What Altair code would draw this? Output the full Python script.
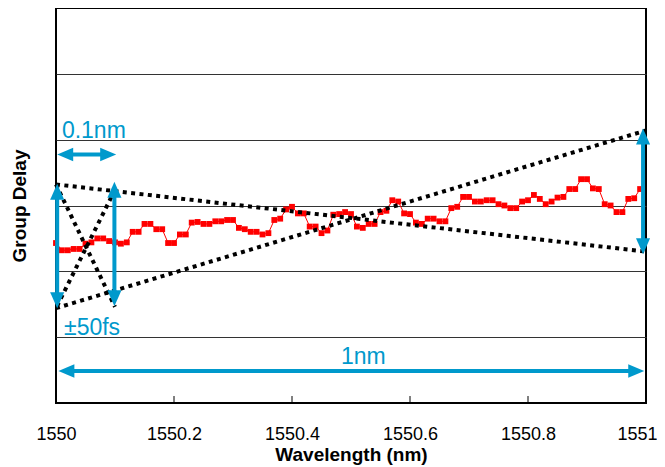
import altair as alt
import pandas as pd

FONT = "Liberation Sans"
BLUE = "#0099cc"

# ---- measured group delay (fs, arbitrary offset) sampled every 0.01 nm from 1550 nm
gd_values = [121.5, 116, 116, 117, 117, 121, 122, 125, 125, 123,
             122, 121, 122, 130, 130, 136, 136, 132, 132, 121.5,
             121.5, 128, 128, 137, 137.5, 136, 136, 138, 138, 139,
             139, 133, 132, 130, 130, 128, 129, 139, 140, 147,
             149, 144, 144, 134, 134, 129, 131, 143, 143.5, 145,
             143.5, 134, 133, 136, 136, 145, 146, 154, 153, 144,
             143.5, 137, 136, 140, 140, 138, 138, 148, 149, 156.5,
             156.5, 153, 153, 154, 154, 151, 150, 148, 148, 153,
             154, 158, 155, 151, 153, 156, 156.5, 162.5, 162.5, 170,
             170, 163, 162.5, 151, 150, 145, 145, 155, 155.5, 162.5]
wl_start = 1550.0
wl_step = 0.01

# ---- dotted guide lines (segment id, wavelength, delay)
dot_seg = ["a", "a", "b", "b", "c", "c", "d", "d"]
dot_x = [1550.0, 1551.0, 1550.0, 1551.0, 1550.0, 1550.1, 1550.1, 1550.0]
dot_y = [166, 115, 72, 207, 166, 73, 162, 72]

# ---- blue arrows
v_arrow_x = [1550.002, 1550.099, 1550.995]
v_arrow_top = [166.5, 168, 208.5]
v_arrow_bot = [72, 73.5, 113]
h_arrow_y = [188.8, 24.3]
h_arrow_left = [1550.002, 1550.004]
h_arrow_right = [1550.102, 1550.997]

# ---- annotation texts
note_text = ["0.1nm", "\u00b150fs", "1nm"]
note_x = [1550.010, 1550.0136, 1550.483]
note_y = [201.3, 51.6, 29.6]

# ---- axis
x_tick_values = [1550, 1550.2, 1550.4, 1550.6, 1550.8, 1551]
inner_ticks = [1550.2, 1550.4, 1550.6, 1550.8]
y_grid_values = [50, 100, 150, 200, 250]

# ---------------------------------------------------------------
xscale = alt.Scale(domain=[1550, 1551], nice=False, zero=False)
yscale = alt.Scale(domain=[0, 300], nice=False, zero=False)

xaxis = alt.Axis(values=x_tick_values, format=".5~g", grid=False, domain=False,
                 ticks=False, tickSize=0, labelFont=FONT, labelFontSize=18,
                 labelColor="black", labelBaseline="alphabetic", labelPadding=36,
                 labelFlush=False, labelOverlap=False,
                 labelOffset=alt.condition("datum.value >= 1551", alt.value(-9), alt.value(0)),
                 title="Wavelength (nm)", titleFont=FONT, titleFontSize=19,
                 titleFontWeight="bold", titleColor="black",
                 titleBaseline="alphabetic", titleX=295, titleY=57)
yaxis = alt.Axis(values=y_grid_values, grid=True, gridColor="#333333", gridWidth=1,
                 labels=False, ticks=False, tickSize=0, domain=False,
                 title="Group Delay", titleFont=FONT, titleFontSize=19,
                 titleFontWeight="bold", titleColor="black", titleAngle=-90,
                 titleBaseline="alphabetic", titleAlign="center",
                 titleX=-31, titleY=197.5)


def X(field="x"):
    return alt.X(f"{field}:Q", scale=xscale, axis=xaxis)


def Y(field="y"):
    return alt.Y(f"{field}:Q", scale=yscale, axis=yaxis)


red_df = pd.DataFrame({
    "x": [round(wl_start + i * wl_step, 3) for i in range(len(gd_values))],
    "y": gd_values,
})
red = alt.Chart(red_df).mark_line(
    color="#ff0000", strokeWidth=1, clip=False,
    point=alt.OverlayMarkDef(shape="square", size=34, filled=True,
                             color="#ff0000", opacity=1),
).encode(x=X(), y=Y())

dot_df = pd.DataFrame({"seg": dot_seg, "x": dot_x, "y": dot_y,
                       "o": list(range(len(dot_x)))})
dots = alt.Chart(dot_df).mark_line(
    color="black", strokeWidth=4, strokeDash=[4, 4.4], strokeCap="butt"
).encode(x=X(), y=Y(), detail="seg:N", order="o:Q")

ticks_df = pd.DataFrame({"x": inner_ticks, "y": [0] * len(inner_ticks),
                         "y2": [5.3] * len(inner_ticks)})
ticks = alt.Chart(ticks_df).mark_rule(color="black", strokeWidth=1).encode(
    x=X(), y=Y(), y2="y2:Q")

# arrow shafts (inset from the tips so the heads cover their ends)
inset_y = 7.0
inset_x = 0.014
vs_df = pd.DataFrame({"x": v_arrow_x,
                      "y": [t - inset_y for t in v_arrow_top],
                      "y2": [b + inset_y for b in v_arrow_bot]})
v_shafts = alt.Chart(vs_df).mark_rule(color=BLUE, strokeWidth=4).encode(
    x=X(), y=Y(), y2="y2:Q")
hs_df = pd.DataFrame({"y": h_arrow_y,
                      "x": [l + inset_x for l in h_arrow_left],
                      "x2": [r - inset_x for r in h_arrow_right]})
h_shafts = alt.Chart(hs_df).mark_rule(color=BLUE, strokeWidth=4).encode(
    x=X(), x2="x2:Q", y=Y())

head_x, head_y, head_dir = [], [], []
for xv, t, b in zip(v_arrow_x, v_arrow_top, v_arrow_bot):
    head_x += [xv, xv]
    head_y += [t, b]
    head_dir += ["up", "down"]
for yv, l, r in zip(h_arrow_y, h_arrow_left, h_arrow_right):
    head_x += [l, r]
    head_y += [yv, yv]
    head_dir += ["left", "right"]
heads_df = pd.DataFrame({"x": head_x, "y": head_y, "dir": head_dir})
head_paths = ["M0,0L-0.44,1L0.44,1Z", "M0,0L-0.44,-1L0.44,-1Z",
              "M0,0L1,-0.42L1,0.42Z", "M0,0L-1,-0.42L-1,0.42Z"]
heads = alt.Chart(heads_df).mark_point(
    filled=True, color=BLUE, opacity=1, size=1024, strokeWidth=0, clip=False
).encode(
    x=X(), y=Y(),
    shape=alt.Shape("dir:N", scale=alt.Scale(domain=["up", "down", "left", "right"],
                                             range=head_paths), legend=None),
)

notes_df = pd.DataFrame({"x": note_x, "y": note_y, "t": note_text})
notes = alt.Chart(notes_df).mark_text(
    align="left", baseline="alphabetic", font=FONT, fontSize=23, color=BLUE
).encode(x=X(), y=Y(), text="t:N")

chart = alt.layer(red, dots, ticks, v_shafts, h_shafts, heads, notes).properties(
    width=590, height=395,
    autosize=alt.AutoSizeParams(type="none"),
    padding={"left": 48, "top": 0, "right": 11, "bottom": 64},
).configure(
    background="white",
    view=alt.ViewConfig(stroke="black", strokeWidth=2),
)

chart.save("out.html", embed_options={"renderer": "svg", "actions": False})
